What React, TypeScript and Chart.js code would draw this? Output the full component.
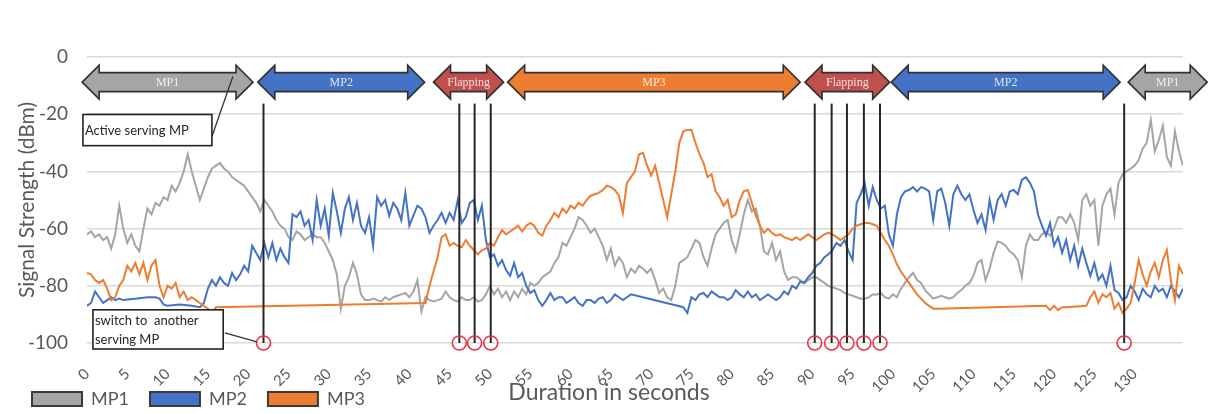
import React, { useEffect, useRef } from 'react';
import { Chart, registerables } from 'chart.js';

Chart.register(...registerables);

// ---------- data ----------
const TIME_STEP = 0.5; // seconds between samples (first sample at t = 0)
const X_MIN = 0;
const X_MAX = 136;
const X_TICKS = [0, 5, 10, 15, 20, 25, 30, 35, 40, 45, 50, 55, 60, 65, 70, 75, 80, 85, 90, 95, 100, 105, 110, 115, 120, 125, 130];

const SERIES_NAMES = ['MP1', 'MP2', 'MP3'];

// MP1 signal strength (dBm), one value every 0.5 s
const MP1 = [
  -62, -61, -63, -62, -64, -63, -67, -62, -52, -60,
  -65, -62, -66, -68, -60, -53, -55, -51, -52, -49,
  -50, -45, -47, -44, -40, -34, -40, -45, -50, -46,
  -42, -39, -38, -37, -39, -40, -42, -43, -44, -45,
  -47, -49, -51, -54, -50, -52, -54, -57, -59, -60,
  -63, -64, -61, -62, -64, -63, -62, -63, -63, -65,
  -68, -71, -76, -88, -80, -77, -72, -76, -83, -85,
  -85, -84.5, -85, -85.5, -84, -85, -84, -83.5, -83, -82.5,
  -84, -82, -78, -89, -84, -85, -85.5, -85, -84.5, -82,
  -84, -85, -85.5, -84, -85, -85, -84, -85.5, -85, -83,
  -80, -83, -81, -84, -82, -85, -82, -84, -81, -83,
  -79, -80, -79, -77, -76, -75, -72, -70, -65, -66,
  -63, -60, -56, -57, -59, -61.5, -60, -63, -66, -71,
  -67, -73, -70, -72, -77, -74, -75.5, -73, -74, -75.5,
  -74, -78, -82.5, -81, -84, -85, -80, -72, -71, -70,
  -67, -64, -65, -70, -73, -67, -62, -60, -58, -57,
  -64, -68, -62, -55, -50, -54, -53, -59, -68, -69,
  -65, -71, -68, -75, -78, -77, -77, -78, -79, -78,
  -77, -77, -78, -79, -80, -80.5, -81, -81.5, -82.5, -83,
  -83.5, -84, -84.5, -84.5, -84, -83, -83, -82.5, -84, -84.5,
  -83, -84, -81, -79, -77, -75.5, -78, -79, -81.5, -83,
  -84.5, -84, -83.5, -84, -84.5, -84, -82.5, -81.5, -80, -79,
  -76.5, -72, -71, -78, -74, -68.5, -64.5, -65, -66, -68,
  -69, -71, -77, -66, -62, -64, -64, -62, -61, -62.5,
  -60, -56, -56, -58, -55, -58, -64, -50, -48, -52,
  -50, -66, -52, -48, -46, -55, -44, -41, -40, -39,
  -38, -36, -32, -30, -22, -33, -29, -24, -35, -38,
  -26, -33, -38,
];

// MP2 signal strength (dBm); null = no sample (the line is bridged)
const MP2 = [
  -87, -86, -82, -84, -86, -85, -84, -85, -84.5, -85,
  null, null, -84.5, null, null, -84, null, -84, -84.5, -86.5,
  -87, null, null, -86.5, null, null, -87, null, -87.5, -86,
  -81, -78, -80, -77, -79, -80, -75.5, -78, -76, -73,
  -75, -66, -68.5, -71, -65, -70, -65, -71, -67, -70,
  -72, -55, -56, -54, -59, -57, -64, -50, -59, -53,
  -62.5, -47.5, -54, -61.5, -53, -49, -57, -51, -59, -61.5,
  -56, -66, -49, -52, -50, -55.5, -51, -53, -57, -47.5,
  -59, -55.5, -52, -53, -56, -61.5, -59, -57, -54.5, -58,
  -54.5, -57, -50, -58, -56, -51, -50, -57, -52, -64,
  -70, -69, -73, -71, -74.5, -76.5, -72, -77, -75.5, -80,
  -82.5, -81.5, -85, -87, -85, -82.5, -85, -84, -84, -86,
  -85, -84, -86, -87, -85, -85, -86, -84.5, -84, -86,
  -85, -83, -84, -85, -84, -83, null, null, null, null,
  null, null, null, null, null, null, null, null, -87.5, -89.5,
  -84, -85, -83, -82.5, -84, -82, -83, -84, -84, -85,
  -84, -81.5, -83, -84, -82, -84, -83, -85, -84, -83,
  -84, -85, -84, -82, -83, -80, -81, -78.5, -79, -77,
  -75.5, -73, -72, -70, -69, -67.5, -65, -66, -64, -68,
  -71, -51, -48, -44, -52, -45.5, -50, -53, -52, -62,
  -66, -55, -49, -47, -46.5, -45.5, -47, -45.5, -46, -47,
  -57, -47, -46, -51, -59, -48, -45, -48, -50, -48,
  -53.5, -58, -55, -60.5, -50, -57, -50, -48, -52, -47,
  -46.5, -48, -43, -42, -44, -47, -55, -59, -62.5, -58,
  -66, -63, -68.5, -64, -71, -66, -73, -67, -72, -76.5,
  -72, -78, -76, -80, -73, -81.5, -82.5, -85, -84, -80,
  -82, -85, -81, -83, -84, -80, -82, -81, -84, -80,
  -82, -84, -81,
];

// MP3 signal strength (dBm); null = no sample (the line is bridged)
const MP3 = [
  -75.5, -76, -78, -79, -78, -81, -85, -84, -80, -78,
  -73, -75, -72, -76, -72, -78, -73, -71, -80, -84,
  -80, -81, -79, -84, -82, -85, -84, -85, -86, -87,
  -88, -89.5, -87.5, null, null, null, null, null, null, null,
  null, null, null, null, null, null, null, null, null, null,
  null, null, null, null, null, null, null, null, null, null,
  null, null, null, null, null, null, null, null, null, null,
  null, null, null, null, null, null, null, null, null, null,
  null, null, null, null, -86, -80, -75, -70, -63, -62,
  -66, -65, -66, -66.5, -64, -66, -67.5, -69, -67.5, -67,
  -65, -66, -63, -60.5, -62, -61, -60, -59, -61, -59,
  -58, -59, -61.5, -62.5, -59, -57, -54.5, -56, -53, -54.5,
  -52, -53, -51, -52, -50, -48.5, -48, -47.5, -46.5, -45,
  -45.5, -46.5, -48.5, -54.5, -44, -42, -40, -34, -33.5, -38,
  -41.5, -38, -44, -50, -56, -48, -40, -30, -26, -25.5,
  -25.5, -30, -34, -37, -42, -41, -47, -49, -52, -50,
  -56, -55, -50, -47, -46.5, -51, -55.5, -59, -61.5, -60,
  -61.5, -62.5, -62, -63, -63.5, -64, -63, -64, -63, -62,
  -63, -64, -63, -62, -61.5, -62, -63, -64, -63, -62,
  -60, -59, -58.5, -58, -58, -58.5, -59, -61.5, -64, -66,
  -69, -72.5, -75, -77, -79, -81, -83, -84.5, -86, -87,
  -88, -88, null, null, null, null, null, null, null, null,
  null, null, null, null, null, null, null, null, null, null,
  null, null, null, null, null, null, null, null, -87, -88.5,
  -87, -88.5, -87.5, -87.5, null, null, null, null, -87, -84,
  -82, -86, -83, -84, -82.5, -88, -86, -89.5, -88, -86,
  -79, -71, -76, -80, -75, -72, -77, -71, -67.5, -78,
  -85, -73, -76,
];

// active serving MP periods (seconds)
const SEGMENT_LABELS = ['MP1', 'MP2', 'Flapping', 'MP3', 'Flapping', 'MP2', 'MP1'];
const SEGMENT_START = [-0.6, 21.2, 43.0, 52.2, 89.1, 99.8, 129.2];
const SEGMENT_END = [20.6, 41.9, 51.7, 88.5, 99.6, 128.2, 139];

// moments the serving MP switches (seconds)
const SWITCH_TIMES = [21.9, 46.2, 48.1, 50.1, 90.3, 92.4, 94.3, 96.4, 98.4, 128.7];

const NOTE_ACTIVE = ['Active serving MP'];
const NOTE_SWITCH = ['switch to  another', 'serving MP'];
const X_TITLE = 'Duration in seconds';
const Y_TITLE = 'Signal Strength (dBm)';

// ---------- styles ----------
const FONT = 'Lato, "Open Sans", sans-serif';
const TEXT = '#595959';
const SERIES_COLORS = ['#A5A5A5', '#4472C4', '#ED7D31'];
const SEGMENT_COLORS: Record<string, string> = {
  MP1: '#A5A5A5',
  MP2: '#4472C4',
  MP3: '#ED7D31',
  Flapping: '#C0504D',
};

function drawDoubleArrow(ctx: CanvasRenderingContext2D, x1: number, x2: number, yc: number, fill: string) {
  const body = 9.5;
  const head = 17;
  const hl = Math.min(17, (x2 - x1) / 3);
  ctx.beginPath();
  ctx.moveTo(x1, yc);
  ctx.lineTo(x1 + hl, yc - head);
  ctx.lineTo(x1 + hl, yc - body);
  ctx.lineTo(x2 - hl, yc - body);
  ctx.lineTo(x2 - hl, yc - head);
  ctx.lineTo(x2, yc);
  ctx.lineTo(x2 - hl, yc + head);
  ctx.lineTo(x2 - hl, yc + body);
  ctx.lineTo(x1 + hl, yc + body);
  ctx.lineTo(x1 + hl, yc + head);
  ctx.closePath();
  ctx.fillStyle = fill;
  ctx.fill();
  ctx.lineWidth = 1.6;
  ctx.strokeStyle = '#303030';
  ctx.stroke();
}

function drawNote(
  ctx: CanvasRenderingContext2D,
  lines: string[],
  x1: number, y1: number, x2: number, y2: number,
  fromX: number, fromY: number, toX: number, toY: number,
) {
  ctx.beginPath();
  ctx.moveTo(fromX, fromY);
  ctx.lineTo(toX, toY);
  ctx.strokeStyle = '#333333';
  ctx.lineWidth = 1.3;
  ctx.stroke();
  ctx.fillStyle = '#ffffff';
  ctx.fillRect(x1, y1, x2 - x1, y2 - y1);
  ctx.strokeStyle = '#222222';
  ctx.lineWidth = 1.6;
  ctx.strokeRect(x1, y1, x2 - x1, y2 - y1);
  ctx.fillStyle = '#262626';
  ctx.font = `13px ${FONT}`;
  ctx.textAlign = 'left';
  ctx.textBaseline = 'middle';
  const h = y2 - y1;
  const step = h / lines.length;
  lines.forEach((l, i) => ctx.fillText(l, x1 + 2, y1 + step * (i + 0.5) + 1));
}

const annotationPlugin = {
  id: 'servingAnnotations',
  afterDatasetsDraw(chart: any) {
    const { ctx } = chart;
    const xs = chart.scales.x;
    const ys = chart.scales.y;
    const X = (t: number) => xs.getPixelForValue(t);
    const Y = (v: number) => ys.getPixelForValue(v);
    ctx.save();

    // serving MP arrows
    const yc = Y(-8.8);
    SEGMENT_LABELS.forEach((label, i) => {
      const x1 = X(SEGMENT_START[i]);
      const x2 = X(SEGMENT_END[i]);
      drawDoubleArrow(ctx, x1, x2, yc, SEGMENT_COLORS[label]);
      ctx.fillStyle = 'rgba(255,255,255,0.82)';
      ctx.font = '12px "Liberation Serif", "DejaVu Serif", serif';
      ctx.textAlign = 'center';
      ctx.textBaseline = 'middle';
      const cx = (x1 + Math.min(x2, chart.width + 10)) / 2;
      ctx.fillText(label, cx, yc + 1);
    });

    // switch lines and markers
    SWITCH_TIMES.forEach((t) => {
      ctx.beginPath();
      ctx.moveTo(X(t), Y(-16.3));
      ctx.lineTo(X(t), Y(-100));
      ctx.strokeStyle = '#262626';
      ctx.lineWidth = 2;
      ctx.stroke();
    });
    SWITCH_TIMES.forEach((t) => {
      ctx.beginPath();
      ctx.arc(X(t), Y(-100), 7, 0, Math.PI * 2);
      ctx.strokeStyle = '#E8344A';
      ctx.lineWidth = 1.6;
      ctx.stroke();
    });

    // callouts
    drawNote(ctx, NOTE_ACTIVE, X(-0.5), Y(-20.1), X(15.5), Y(-31.0), X(15.5), Y(-27.8), X(18.1), Y(-6.8));
    drawNote(ctx, NOTE_SWITCH, X(0.74), Y(-88.4), X(16.9), Y(-102.1), X(17.1), Y(-96.5), X(21.1), Y(-99.6));

    // x axis title
    ctx.fillStyle = TEXT;
    ctx.font = `23px ${FONT}`;
    ctx.textAlign = 'center';
    ctx.textBaseline = 'middle';
    ctx.fillText(X_TITLE, 609, 393);

    ctx.restore();
  },
};

export default function App() {
  const canvasRef = useRef<HTMLCanvasElement | null>(null);

  useEffect(() => {
    if (!canvasRef.current) return;
    Chart.defaults.font.family = FONT;
    const seriesValues = [MP1, MP2, MP3];
    const datasets = SERIES_NAMES.map((name, s) => ({
      label: name,
      data: seriesValues[s].map((v, i) => ({ x: X_MIN + i * TIME_STEP, y: v })),
      borderColor: SERIES_COLORS[s],
      backgroundColor: SERIES_COLORS[s],
      borderWidth: 2,
      pointRadius: 0,
      tension: 0,
      spanGaps: true,
      order: 2 - s,
    }));

    const chart = new Chart(canvasRef.current, {
      type: 'line',
      data: { datasets },
      plugins: [annotationPlugin],
      options: {
        animation: false,
        responsive: false,
        maintainAspectRatio: false,
        devicePixelRatio: 1,
        layout: { padding: { top: 57, left: 11, right: 25, bottom: 0 } },
        plugins: {
          tooltip: { enabled: false },
          legend: {
            position: 'bottom',
            align: 'start',
            maxHeight: 45,
            labels: {
              boxWidth: 50,
              boxHeight: 14,
              padding: 21,
              color: TEXT,
              font: { size: 18 },
              generateLabels: (c: any) =>
                c.data.datasets.map((ds: any, i: number) => ({
                  text: ds.label,
                  fillStyle: ds.borderColor,
                  strokeStyle: '#3A3A3A',
                  lineWidth: 2,
                  hidden: false,
                  datasetIndex: i,
                  fontColor: TEXT,
                })),
            },
          },
        },
        scales: {
          x: {
            type: 'linear',
            min: X_MIN,
            max: X_MAX,
            grid: { display: false, drawTicks: false },
            border: { display: false },
            ticks: {
              autoSkip: false,
              maxRotation: 45,
              minRotation: 45,
              padding: 22,
              color: TEXT,
              font: { size: 15 },
            },
            afterBuildTicks: (axis: any) => {
              axis.ticks = X_TICKS.map((v) => ({ value: v }));
            },
            afterFit: (axis: any) => {
              axis.height = 26;
              // let the rotated tick labels run into the legend band (no clipping)
              axis._computeLabelArea = () => undefined;
            },
          },
          y: {
            min: -100,
            max: 0,
            ticks: { stepSize: 20, padding: 19, color: TEXT, font: { size: 19 } },
            grid: { color: '#D9D9D9', lineWidth: 1.5, drawTicks: false },
            border: { display: false },
            title: {
              display: true,
              text: Y_TITLE,
              color: TEXT,
              font: { size: 21 },
              padding: { top: 4, bottom: 0 },
            },
            afterFit: (axis: any) => {
              axis.width = 76;
            },
          },
        },
      } as any,
    });
    return () => chart.destroy();
  }, []);

  return (
    <div style={{ position: 'fixed', left: 0, top: 0, width: 1208, height: 414, background: '#ffffff' }}>
      <canvas ref={canvasRef} width={1208} height={414} style={{ display: 'block' }} />
    </div>
  );
}
